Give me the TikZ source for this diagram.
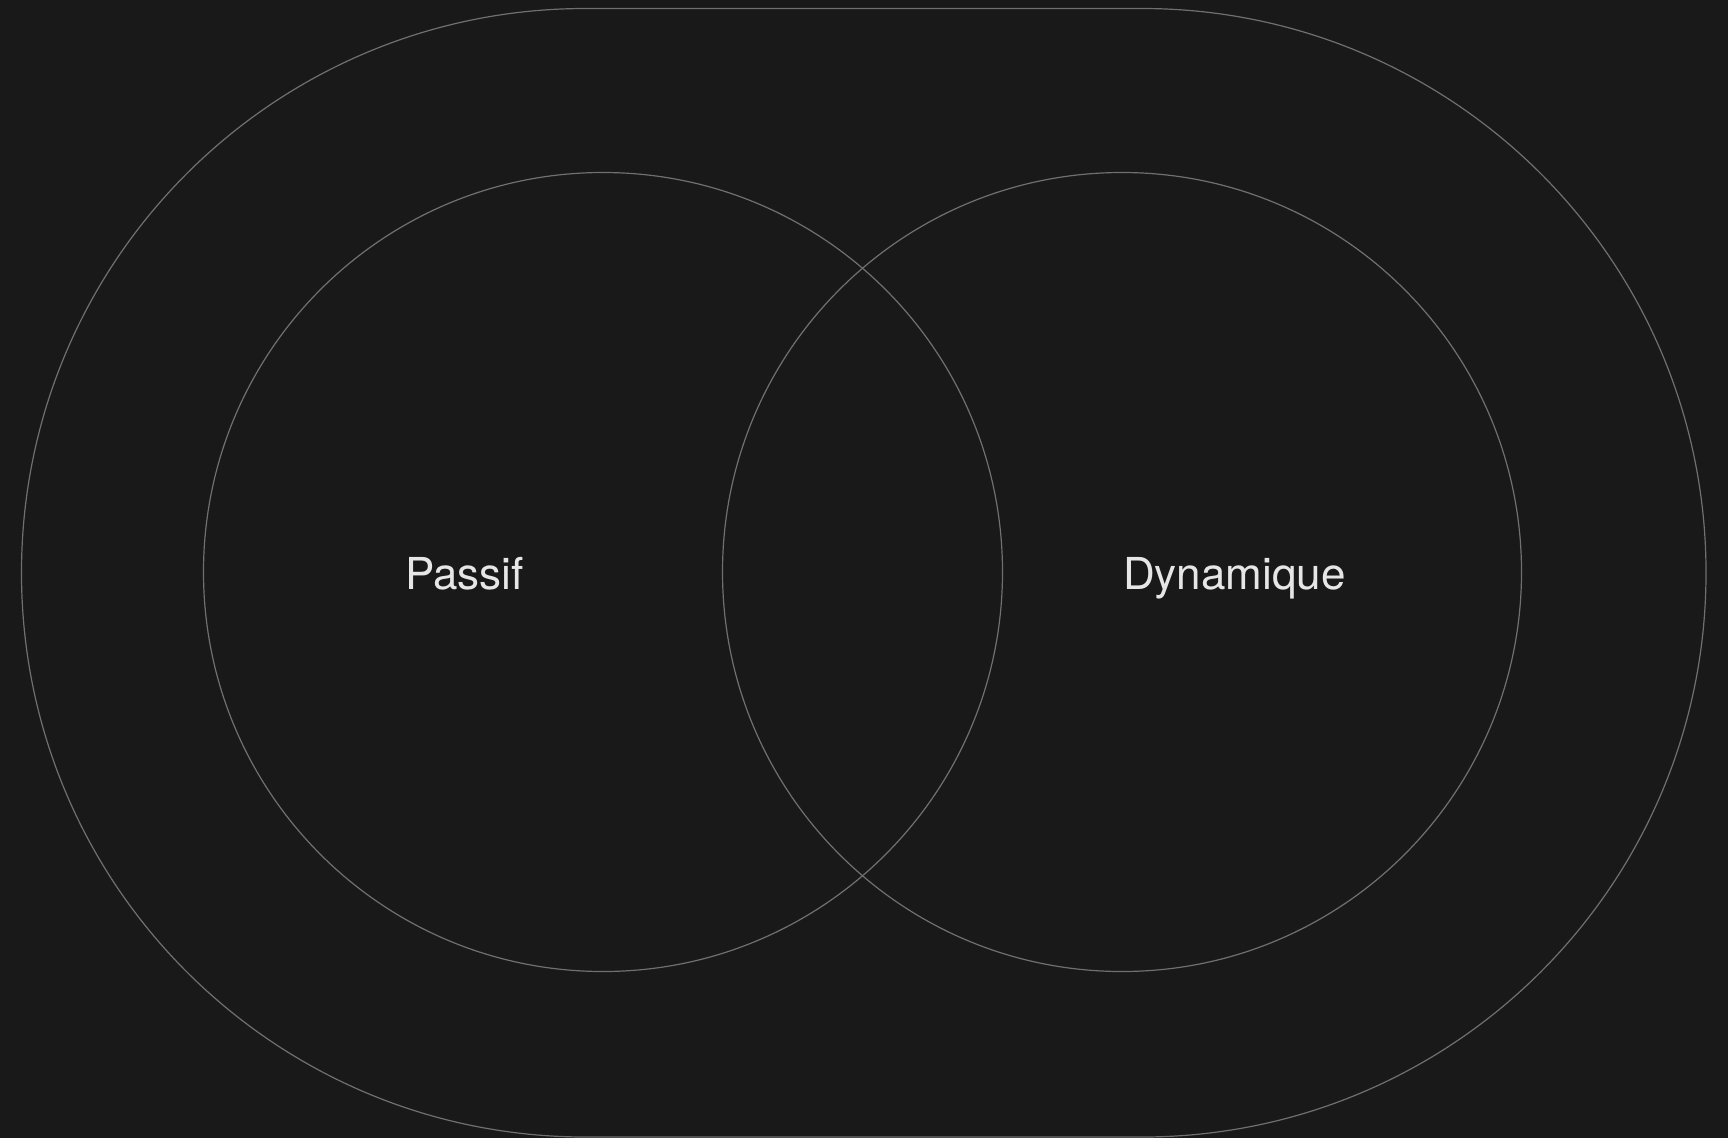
\documentclass[tikz,border=0pt]{standalone}
\usepackage{fontspec}
\setmainfont{TeX Gyre Heros}
\usetikzlibrary{positioning}

\definecolor{bgdark}{HTML}{191919}
\definecolor{strokegray}{HTML}{707070}
\definecolor{labelgray}{HTML}{E6E6E6}

\tikzset{
  ring/.style={circle, draw=strokegray, line width=1.2pt, minimum size=799pt, inner sep=0pt},
  setlabel/.style={text=labelgray, font=\fontsize{44}{50}\selectfont, anchor=base, inner sep=0pt}
}

\begin{document}
\begin{tikzpicture}[x=1pt, y=-1pt]
      \fill[bgdark] (0,0) rectangle (1728,1138);
      \useasboundingbox (0,0) rectangle (1728,1138);

      % outer frame
      \draw[strokegray, line width=1.2pt, rounded corners=564pt] (21.5,8.5) rectangle (1706,1137);

      \node[ring] (left) at (603,572) {};
      \node[ring] (right) at (1122,572) {};

      \node[setlabel] (passif) at (464.5,589) {Passif};
      \node[setlabel] (dynamique) at (1234.5,589) {Dynamique};
    \end{tikzpicture}
\end{document}
